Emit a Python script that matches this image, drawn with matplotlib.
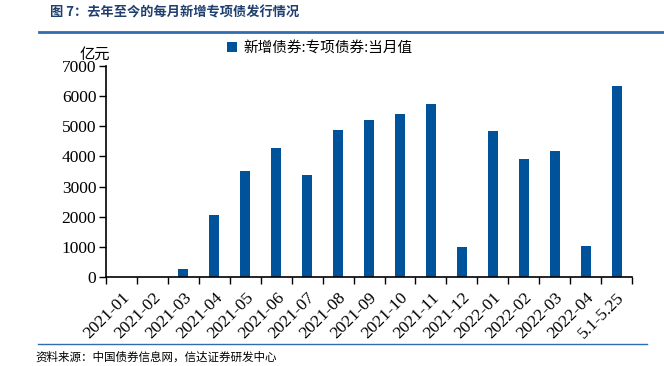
import matplotlib
matplotlib.use("Agg")
import matplotlib.pyplot as plt
from matplotlib.lines import Line2D
import numpy as np

plt.rcParams["font.family"] = ["Noto Sans CJK SC", "DejaVu Sans"]
plt.rcParams["axes.unicode_minus"] = False

# 每月新增专项债 (亿元)
months = ["2021-01", "2021-02", "2021-03", "2021-04", "2021-05", "2021-06",
          "2021-07", "2021-08", "2021-09", "2021-10", "2021-11", "2021-12",
          "2022-01", "2022-02", "2022-03", "2022-04", "5.1-5.25"]
values = [0, 0, 260, 2050, 3500, 4280, 3380, 4870, 5210, 5400, 5750, 1000,
          4830, 3920, 4190, 1030, 6320]
yticks = [0, 1000, 2000, 3000, 4000, 5000, 6000, 7000]

BAR_COLOR = "#00539B"
LINE_COLOR = "#2E6DB0"
SERIF = "Liberation Serif"

fig = plt.figure(figsize=(6.64, 3.66), dpi=100)
ax = fig.add_axes([0.1596, 0.2432, 0.7924, 0.5765])

x = np.arange(len(months))
ax.bar(x, values, width=0.32, color=BAR_COLOR, label="新增债券:专项债券:当月值")

ax.set_xlim(-0.5, len(months) - 0.5)
ax.set_ylim(0, 7000)
ax.set_yticks(yticks)
ax.set_yticklabels([str(v) for v in yticks], family=SERIF, fontsize=12.5)

# 刻度线放在类别之间, 标签放在中心
ax.set_xticks(np.arange(len(months) + 1) - 0.5)
ax.set_xticklabels([])
ax.set_xticks(x, minor=True)
ax.set_xticklabels(months, minor=True, rotation=45, ha="right", rotation_mode="anchor",
                   family=SERIF, fontsize=12.5)
ax.tick_params(axis="x", which="minor", length=0, pad=9)
ax.tick_params(axis="x", which="major", length=5, width=1, direction="out")
ax.tick_params(axis="y", length=5, width=1, direction="out", pad=2)

for side in ("top", "right"):
    ax.spines[side].set_visible(False)
for side in ("left", "bottom"):
    ax.spines[side].set_linewidth(1.2)

ax.legend(loc="upper left", bbox_to_anchor=(0.205, 1.18), frameon=False,
          handlelength=0.7, handleheight=0.7, handletextpad=0.4, fontsize=10.5)

fig.text(0.12, 0.852, "亿元", fontsize=11, ha="left", va="center")

fig.text(0.075, 0.965, "图 7：去年至今的每月新增专项债发行情况", fontsize=9.5,
         fontweight="bold", color="#1F3F6E", ha="left", va="center")
fig.add_artist(Line2D([0.059, 1.0], [0.912, 0.912], color=LINE_COLOR, linewidth=2))
fig.add_artist(Line2D([0.057, 0.974], [0.06, 0.06], color=LINE_COLOR, linewidth=1))
fig.text(0.053, 0.024, "资料来源：中国债券信息网，信达证券研发中心", fontsize=8.3,
         style="italic", ha="left", va="center")

fig.savefig("out.png", dpi=100)
